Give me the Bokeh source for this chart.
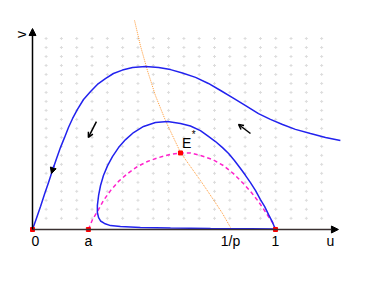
from bokeh.plotting import figure
from bokeh.models import Arrow, NormalHead, OpenHead, Label
from bokeh.embed import file_html
from bokeh.resources import INLINE

# Outer trajectory (u, v)
outer_u = [0.0, 0.016, 0.033, 0.049, 0.066, 0.082, 0.099, 0.115, 0.132, 0.148, 0.165,
           0.185, 0.210, 0.239, 0.267, 0.300, 0.333, 0.370, 0.412, 0.465, 0.519, 0.568,
           0.617, 0.671, 0.724, 0.774, 0.823, 0.877, 0.930, 0.979, 1.029, 1.082, 1.144,
           1.206, 1.267]
outer_v = [0.0, 0.045, 0.095, 0.144, 0.193, 0.243, 0.292, 0.337, 0.379, 0.420, 0.457,
           0.494, 0.535, 0.568, 0.597, 0.621, 0.642, 0.656, 0.667, 0.671, 0.667, 0.658,
           0.644, 0.626, 0.601, 0.572, 0.543, 0.510, 0.477, 0.453, 0.432, 0.412, 0.395,
           0.379, 0.366]

# Inner trajectory (u, v)
inner_u = [1.0, 0.897, 0.733, 0.568, 0.444, 0.362, 0.321, 0.296, 0.280, 0.272, 0.267,
           0.267, 0.272, 0.280, 0.292, 0.309, 0.329, 0.354, 0.383, 0.416, 0.457, 0.506,
           0.556, 0.609, 0.650, 0.691, 0.724, 0.753, 0.782, 0.807, 0.831, 0.856, 0.877,
           0.897, 0.918, 0.938, 0.955, 0.971, 0.988, 1.0]
inner_v = [0.002, 0.003, 0.004, 0.006, 0.008, 0.012, 0.016, 0.025, 0.035, 0.049, 0.070,
           0.099, 0.140, 0.181, 0.222, 0.263, 0.300, 0.337, 0.370, 0.399, 0.424, 0.440,
           0.444, 0.436, 0.426, 0.407, 0.383, 0.362, 0.337, 0.313, 0.284, 0.251, 0.222,
           0.193, 0.160, 0.123, 0.095, 0.062, 0.029, 0.0]

# v-nullcline (magenta dashed)
vnull_u = [0.230, 0.247, 0.267, 0.292, 0.321, 0.354, 0.391, 0.432, 0.473, 0.519, 0.568,
           0.609, 0.650, 0.691, 0.741, 0.786, 0.827, 0.868, 0.901, 0.930, 0.955, 0.971,
           0.988, 1.0]
vnull_v = [0.0, 0.041, 0.074, 0.119, 0.160, 0.198, 0.230, 0.259, 0.280, 0.296, 0.309,
           0.315, 0.315, 0.305, 0.288, 0.263, 0.230, 0.189, 0.152, 0.115, 0.078, 0.053,
           0.029, 0.0]

# u-nullcline (orange dotted)
unull_u = [0.420, 0.444, 0.473, 0.506, 0.547, 0.576, 0.609, 0.650, 0.691, 0.741, 0.782, 0.815]
unull_v = [0.860, 0.757, 0.654, 0.551, 0.449, 0.387, 0.317, 0.259, 0.202, 0.128, 0.066, 0.008]

# Equilibria
eq_u = [0.0, 0.230, 0.609, 1.0]
eq_v = [0.0, 0.0, 0.315, 0.0]

# Tick labels on u axis
tick_pos = [0.012, 0.230, 0.815, 1.0]
tick_lab = ["0", "a", "1/p", "1"]

# Direction field grid (decoration)
grid_u = [0.056, 0.119, 0.182, 0.245, 0.308, 0.371, 0.434, 0.497, 0.560, 0.623, 0.686,
          0.749, 0.812, 0.875, 0.938, 1.001, 1.064, 1.127, 1.190]
grid_v = [0.786, 0.749, 0.712, 0.675, 0.638, 0.601, 0.564, 0.527, 0.490, 0.453, 0.416,
          0.379, 0.342, 0.305, 0.268, 0.231, 0.194, 0.157, 0.120, 0.083, 0.046]

p = figure(width=358, height=268, output_backend="svg", toolbar_location=None,
           x_range=(-0.1317, 1.3416), y_range=(-0.1605, 0.9424), min_border=0)
p.axis.visible = False
p.grid.visible = False
p.outline_line_color = None
p.background_fill_color = "white"

gx = [u for u in grid_u for v in grid_v]
gy = [v for u in grid_u for v in grid_v]
p.scatter(gx, gy, marker="cross", size=3, line_color="#dcdcdc", line_width=1)

# axes
p.add_layout(Arrow(end=NormalHead(size=7, fill_color="black", line_color="black"),
                   x_start=0, y_start=0, x_end=1.259, y_end=0,
                   line_color="#3a3030", line_width=1.5))
p.add_layout(Arrow(end=NormalHead(size=7, fill_color="black", line_color="black"),
                   x_start=0, y_start=0, x_end=0, y_end=0.827,
                   line_color="black", line_width=1.5))
p.line([0, 0], [0, 0.80], line_color="#ff33cc", line_width=1, line_dash="4 3")

p.line(unull_u, unull_v, line_color="#ff9933", line_width=1, line_dash="1 1")
p.line(vnull_u, vnull_v, line_color="#ff22cc", line_width=1.5, line_dash="4 3")
p.line(outer_u, outer_v, line_color="#2222ee", line_width=1.5)
p.line(inner_u, inner_v, line_color="#2222ee", line_width=1.5)

p.scatter(eq_u, eq_v, size=4, marker="square", fill_color="red", line_color="red")

# direction arrows
p.add_layout(Arrow(end=OpenHead(size=5, line_color="black", line_width=1.5),
                   x_start=0.263, y_start=0.444, x_end=0.230, y_end=0.379,
                   line_color="black", line_width=1.5))
p.add_layout(Arrow(end=OpenHead(size=5, line_color="black", line_width=1.5),
                   x_start=0.897, y_start=0.395, x_end=0.848, y_end=0.432,
                   line_color="black", line_width=1.5))
p.add_layout(Arrow(end=NormalHead(size=6, fill_color="black", line_color="black"),
                   x_start=0.088, y_start=0.262, x_end=0.078, y_end=0.230,
                   line_color="#2222ee", line_width=1.5))

for x, t in zip(tick_pos, tick_lab):
    p.add_layout(Label(x=x, y=-0.049, text=t, text_align="center", text_baseline="middle",
                       text_font="Liberation Sans", text_font_size="14px", text_color="black"))
p.add_layout(Label(x=1.226, y=-0.049, text="u", text_align="center", text_baseline="middle",
                   text_font="Liberation Sans", text_font_size="14px", text_color="black"))
p.add_layout(Label(x=-0.049, y=0.802, text="v", text_align="center", text_baseline="middle",
                   angle=1.5708, text_font="Liberation Sans", text_font_size="14px",
                   text_color="black"))
p.add_layout(Label(x=0.634, y=0.354, text="E", text_align="center", text_baseline="middle",
                   text_font="Liberation Sans", text_font_size="14px", text_color="black"))
p.add_layout(Label(x=0.663, y=0.391, text="*", text_align="center", text_baseline="middle",
                   text_font="Liberation Sans", text_font_size="10px", text_color="black"))

open("out.html", "w").write(file_html(p, INLINE))
